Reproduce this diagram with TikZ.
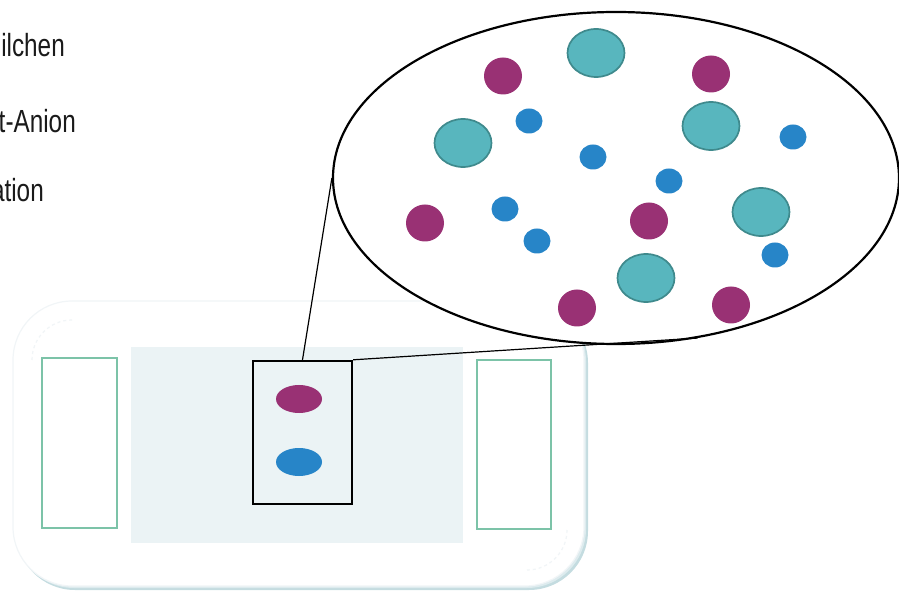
\documentclass[tikz,border=0pt]{standalone}
\usepackage{fontspec}
\setmainfont{Liberation Sans}[FakeStretch=0.76]
\usetikzlibrary{shapes.geometric}
\definecolor{magp}{HTML}{993174}
\definecolor{bluep}{HTML}{2785C8}
\definecolor{tealfill}{HTML}{58B6BE}
\definecolor{tealedge}{HTML}{3F8A8D}
\definecolor{greenrect}{HTML}{7CC3A8}
\definecolor{panelc}{HTML}{EBF3F5}
\definecolor{cardedge}{HTML}{F1F5F7}
\definecolor{cardshadow}{HTML}{C4DCE0}
\definecolor{cardshadowb}{HTML}{DDEBEE}
\definecolor{txt}{HTML}{1A1A1A}
\tikzset{
  tealp/.style={ellipse, inner sep=0pt, minimum width=57pt, minimum height=48pt, fill=tealfill, draw=tealedge, line width=1.7pt},
  magpart/.style={ellipse, inner sep=0pt, minimum width=38pt, minimum height=37pt, fill=magp},
  bluepart/.style={ellipse, inner sep=0pt, minimum width=27pt, minimum height=25pt, fill=bluep},
  electrode/.style={draw=greenrect, line width=2pt, fill=white},
  label/.style={anchor=base east, inner sep=0pt, text=txt, font=\fontsize{32}{38}\selectfont},
  connector/.style={draw=black, line width=1.2pt},
}
\begin{document}
\begin{tikzpicture}[x=1pt,y=1pt]
\useasboundingbox (0,0) rectangle (899,592);
\clip (0,0) rectangle (899,592);
% card
\fill[cardshadow, rounded corners=59pt] (16,2) rectangle (588,288);
\fill[cardshadowb, rounded corners=59pt] (15,4) rectangle (586,290);
\filldraw[fill=white, draw=cardedge, line width=1.2pt, rounded corners=59pt] (13,6) rectangle (584,291);
\draw[cardedge, dashed, line width=1.2pt] (32,232) arc[start angle=180, end angle=90, radius=40pt];
\draw[cardedge, dashed, line width=1.2pt] (567,62) arc[start angle=0, end angle=-90, radius=40pt];
% panel
\fill[panelc] (131,49) rectangle (463,245);
% electrodes
\node[electrode, minimum width=75pt, minimum height=170pt, inner sep=0pt] (eleft) at (79.5,149) {};
\node[electrode, minimum width=74pt, minimum height=169pt, inner sep=0pt] (eright) at (514,147.5) {};
% sample box
\node[draw=black, line width=2.4pt, minimum width=99pt, minimum height=143pt, inner sep=0pt] (box) at (302.5,159.5) {};
\node[ellipse, inner sep=0pt, minimum width=46pt, minimum height=28pt, fill=magp] (sm) at (299,193) {};
\node[ellipse, inner sep=0pt, minimum width=46pt, minimum height=28pt, fill=bluep] (sb) at (299,130) {};
% zoom ellipse
\node[ellipse, draw=black, line width=2.2pt, fill=white, minimum width=566pt, minimum height=332pt, inner sep=0pt] (zoom) at (616,414) {};
\draw[connector] (box.north) -- (zoom.west);
\draw[connector] (box.north east) -- (zoom.-63);
% particles
\node[tealp] (t1) at (596,539) {};
\node[tealp] (t2) at (463,449) {};
\node[tealp] (t3) at (711,466) {};
\node[tealp] (t4) at (761,380) {};
\node[tealp] (t5) at (646,314) {};
\node[magpart] (m1) at (503,516) {};
\node[magpart] (m2) at (711,518) {};
\node[magpart] (m3) at (425,369) {};
\node[magpart] (m4) at (577,284) {};
\node[magpart] (m5) at (649,371) {};
\node[magpart] (m6) at (731,287) {};
\node[bluepart] (b1) at (529,471) {};
\node[bluepart] (b2) at (593,435) {};
\node[bluepart] (b3) at (793,455) {};
\node[bluepart] (b4) at (669,411) {};
\node[bluepart] (b5) at (505,383) {};
\node[bluepart] (b6) at (537,351) {};
\node[bluepart] (b7) at (775,337) {};
% labels
\node[label] (l1) at (65,535) {ilchen};
\node[label] (l2) at (76,459) {t-Anion};
\node[label] (l3) at (44,390) {ation};
\end{tikzpicture}
\end{document}
